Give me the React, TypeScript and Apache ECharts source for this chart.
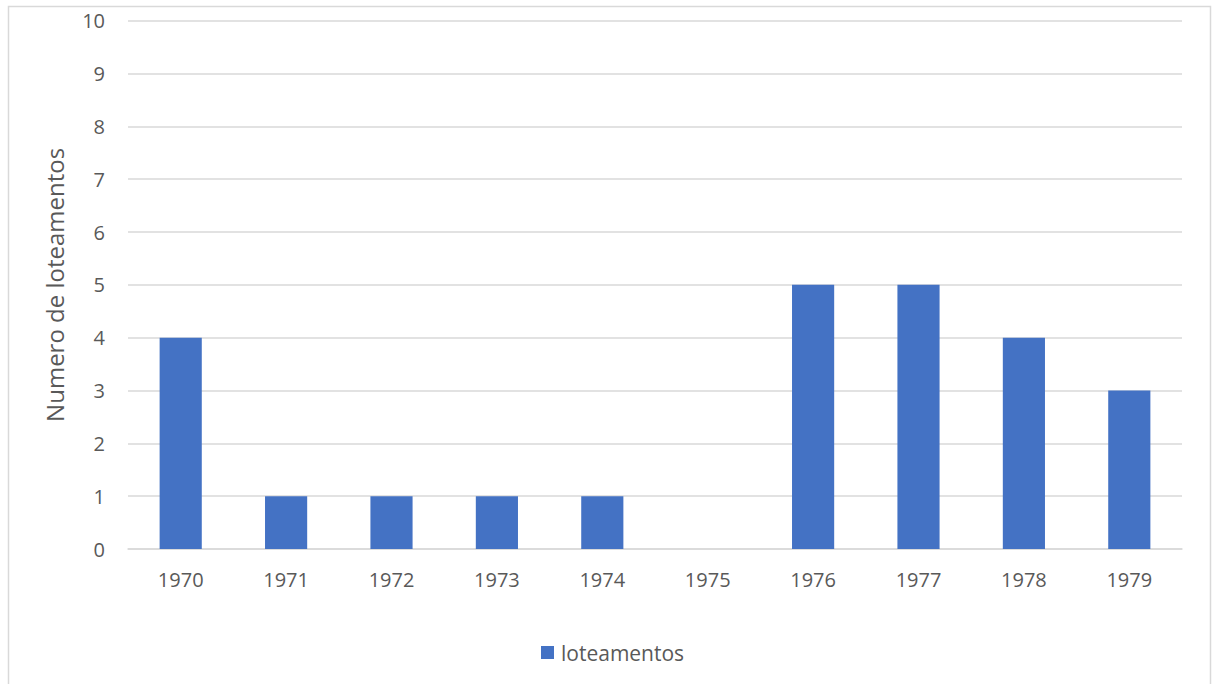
import React, { useEffect, useRef } from "react";
import * as echarts from "echarts";

// Number of subdivisions (loteamentos) approved per year
const years = ["1970", "1971", "1972", "1973", "1974", "1975", "1976", "1977", "1978", "1979"];
const loteamentos = [4, 1, 1, 1, 1, 0, 5, 5, 4, 3];

const seriesName = "loteamentos";
const yAxisTitle = "Numero de loteamentos";

const FONT = "'Open Sans', 'Noto Sans', sans-serif";
const TEXT = "#595959";
const GRID = "#D9D9D9";
const BAR = "#4472C4";

export default function App() {
  const ref = useRef<HTMLDivElement>(null);

  useEffect(() => {
    if (!ref.current) return;
    const chart = echarts.init(ref.current, undefined, { renderer: "svg" });
    chart.setOption({
      animation: false,
      backgroundColor: "#ffffff",
      textStyle: { fontFamily: FONT },
      graphic: [
        {
          type: "rect",
          shape: { x: 8.5, y: 6.5, width: 1202, height: 700 },
          style: { fill: "none", stroke: GRID, lineWidth: 1.5 },
          silent: true,
          z: -1,
        },
      ],
      grid: { left: 128, right: 33, top: 20.7, bottom: 135, containLabel: false },
      legend: {
        show: true,
        left: 536,
        top: 637,
        itemWidth: 13,
        itemHeight: 13,
        icon: "rect",
        itemGap: 7,
        textStyle: { color: TEXT, fontSize: 21, fontFamily: FONT, padding: [0, 0, 0, 2] },
        data: [seriesName],
      },
      xAxis: {
        type: "category",
        data: years,
        axisLine: { show: true, lineStyle: { color: GRID, width: 1.5 } },
        axisTick: { show: false },
        axisLabel: { color: TEXT, fontSize: 20, fontFamily: FONT, margin: 20 },
        splitLine: { show: false },
      },
      yAxis: {
        type: "value",
        min: 0,
        max: 10,
        interval: 1,
        name: yAxisTitle,
        nameLocation: "middle",
        nameGap: 62,
        nameTextStyle: { color: TEXT, fontSize: 24, fontFamily: FONT },
        axisLine: { show: false },
        axisTick: { show: false },
        axisLabel: { color: TEXT, fontSize: 20, fontFamily: FONT, margin: 23 },
        splitLine: { show: true, lineStyle: { color: GRID, width: 1.5 } },
      },
      series: [
        {
          name: seriesName,
          type: "bar",
          data: loteamentos,
          barWidth: "40%",
          itemStyle: { color: BAR },
        },
      ],
    });
    return () => chart.dispose();
  }, []);

  return (
    <div
      ref={ref}
      style={{ position: "absolute", left: 0, top: 0, width: 1215, height: 684 }}
    />
  );
}
